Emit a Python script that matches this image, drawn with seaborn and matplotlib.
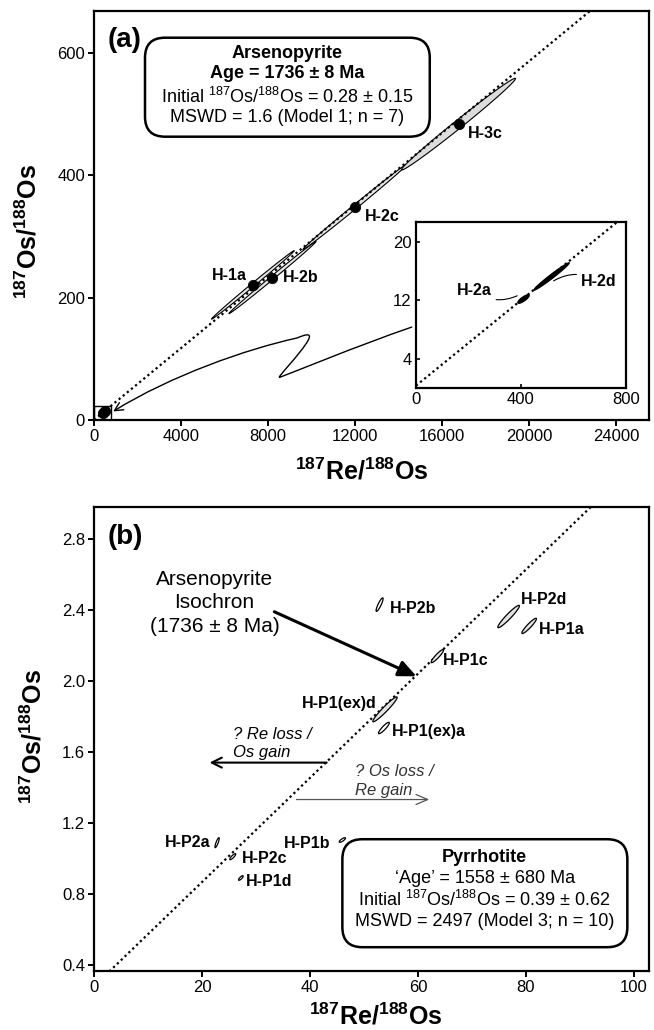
import numpy as np
import pandas as pd
import matplotlib
matplotlib.use("Agg")
import matplotlib.pyplot as plt
import seaborn as sns
from matplotlib.patches import FancyBboxPatch, FancyArrowPatch, Rectangle
from matplotlib.path import Path

# ---- (a) arsenopyrite analyses: 187Re/188Os, 187Os/188Os, 2s errors, rho ----
apy_names = ["H-1a", "H-2b", "H-2c", "H-3c", "H-2a", "H-2d"]
apy_re = [7300, 8200, 12000, 16750, 410, 517]
apy_re_err = [1900, 2000, 2400, 2620, 22, 68]
apy_os = [221, 233, 349, 484, 12.2, 15.3]
apy_os_err = [56, 59, 70, 75, 0.6, 1.9]
apy_rho = [0.998, 0.998, 0.998, 0.9935, 0.815, 0.983]

# ---- (b) pyrrhotite analyses ----
po_names = ["H-P2b", "H-P2d", "H-P1a", "H-P1c", "H-P1(ex)d", "H-P1(ex)a",
            "H-P2a", "H-P2c", "H-P1d", "H-P1b"]
po_re = [52.9, 76.8, 80.6, 63.6, 53.9, 53.7, 22.8, 25.7, 27.2, 46.0]
po_re_err = [0.65, 2.0, 1.35, 1.15, 2.25, 1.0, 0.4, 0.55, 0.43, 0.58]
po_os = [2.43, 2.363, 2.31, 2.14, 1.84, 1.735, 1.089, 1.01, 0.89, 1.104]
po_os_err = [0.038, 0.063, 0.043, 0.037, 0.07, 0.032, 0.028, 0.017, 0.013, 0.013]
po_rho = [0.88, 0.95, 0.93, 0.92, 0.96, 0.9, 0.85, 0.85, 0.8, 0.8]

# arsenopyrite isochron
iso_age_ma = 1736
iso_initial = 0.28
lambda_re = 1.666e-11
iso_slope = np.exp(lambda_re * iso_age_ma * 1e6) - 1

apy = pd.DataFrame({"name": apy_names, "re": apy_re, "re_err": apy_re_err,
                    "os": apy_os, "os_err": apy_os_err, "rho": apy_rho})
po = pd.DataFrame({"name": po_names, "re": po_re, "re_err": po_re_err,
                   "os": po_os, "os_err": po_os_err, "rho": po_rho})

sns.set_theme(style="ticks")
plt.rcParams["font.family"] = ["Liberation Sans", "DejaVu Sans"]
plt.rcParams["mathtext.fontset"] = "custom"
plt.rcParams["mathtext.rm"] = "Liberation Sans"
plt.rcParams["mathtext.bf"] = "Liberation Sans:bold"
plt.rcParams["mathtext.it"] = "Liberation Sans:italic"
plt.rcParams["axes.linewidth"] = 1.6
plt.rcParams["axes.edgecolor"] = "black"
plt.rcParams["text.color"] = "black"
plt.rcParams["axes.labelcolor"] = "black"
plt.rcParams["xtick.color"] = "black"
plt.rcParams["ytick.color"] = "black"

FW, FH = 6.54, 10.30
fig = plt.figure(figsize=(FW, FH), dpi=100)
ax_a = fig.add_axes([94 / 654, 610 / 1030, 555 / 654, 409 / 1030])
ax_b = fig.add_axes([94 / 654, 59 / 1030, 555 / 654, 464 / 1030])
ax_in = fig.add_axes([416 / 654, 642.3 / 1030, 209.7 / 654, 165.7 / 1030])

DOTS = (0, (1, 1.4))


def ellipse(ax, row, fc, lw=0.9, z=3):
    t = np.linspace(0, 2 * np.pi, 200)
    x = row.re + row.re_err * np.cos(t)
    y = row.os + row.os_err * (row.rho * np.cos(t) + np.sqrt(1 - row.rho ** 2) * np.sin(t))
    ax.fill(x, y, facecolor=fc, edgecolor="black", lw=lw, zorder=z)


def rounded_box(ax, x0, y0, x1, y1, r_px=20):
    bb = ax.get_position()
    w_px, h_px = bb.width * FW * 100, bb.height * FH * 100
    p = FancyBboxPatch((x0, y0), x1 - x0, y1 - y0,
                       boxstyle=f"round,pad=0,rounding_size={r_px / w_px}",
                       mutation_aspect=w_px / h_px, transform=ax.transAxes,
                       fc="white", ec="black", lw=1.8, zorder=6)
    ax.add_patch(p)


def style_axes(ax, size=12):
    ax.tick_params(direction="out", length=4, width=1.4, labelsize=size, pad=2.5,
                   colors="black")
    for s in ax.spines.values():
        s.set_visible(True)
        s.set_linewidth(1.6)


# ================= panel (a) =================
xa_max, ya_max = 25500, 669
ax_a.set_xlim(0, xa_max)
ax_a.set_ylim(0, ya_max)
style_axes(ax_a)
ax_a.set_xticks(range(0, 24001, 4000))
ax_a.set_yticks([0, 200, 400, 600])

xs = np.array([0, xa_max])
ax_a.plot(xs, iso_initial + iso_slope * xs, color="black", lw=1.6, linestyle=DOTS, zorder=4)
for _, r in apy.iterrows():
    ellipse(ax_a, r, "#dcdcdc" if r["name"] == "H-3c" else "#e6e6e6", lw=0.8)
sns.scatterplot(data=apy, x="re", y="os", color="black", s=55, edgecolor="black",
                ax=ax_a, zorder=5, legend=False)

in_xmax, in_ymax = 800, 22.8
ax_a.add_patch(Rectangle((0, 0), in_xmax, in_ymax, fill=False, ec="black", lw=1, zorder=5))

lab_a = {"H-1a": (-6, 9, "right"), "H-2b": (10, 0, "left"),
         "H-2c": (10, -10, "left"), "H-3c": (9, -9, "left")}
for _, r in apy.iterrows():
    if r["name"] in lab_a:
        dx, dy, ha = lab_a[r["name"]]
        ax_a.annotate(r["name"], (r.re, r.os), xytext=(dx, dy), textcoords="offset pixels",
                      ha=ha, va="center", fontsize=11.5, fontweight="bold", zorder=7)

# zig-zag pointer from inset to origin
zz = Path([(14600, 152), (12000, 120), (9300, 80), (8548, 70),
           (8300, 66), (9500, 108), (9850, 131),
           (10050, 145), (9600, 138), (9315, 134),
           (7000, 116), (3500, 72), (880, 14)],
          [Path.MOVETO] + [Path.CURVE4] * 12)
ax_a.add_patch(FancyArrowPatch(path=zz, arrowstyle="->,head_length=6,head_width=3",
                               lw=1.0, color="black", zorder=4))

rounded_box(ax_a, 0.0919, 0.6927, 0.605, 0.9347)
box_a = ["Arsenopyrite", "Age = 1736 ± 8 Ma",
         r"Initial $^{187}$Os/$^{188}$Os = 0.28 ± 0.15", "MSWD = 1.6 (Model 1; n = 7)"]
for txt, yy, fw in zip(box_a, [0.8973, 0.8484, 0.7897, 0.7408],
                       ["bold", "bold", "normal", "normal"]):
    ax_a.text(0.3485, yy, txt, transform=ax_a.transAxes, ha="center", va="center",
              fontsize=13, fontweight=fw, zorder=7)

ax_a.text(0.025, 0.929, "(a)", transform=ax_a.transAxes, fontsize=20,
          fontweight="bold", va="center", ha="left")
ax_a.set_xlabel(r"$\mathbf{^{187}Re/^{188}Os}$", fontsize=18)
ax_a.set_ylabel(r"$\mathbf{^{187}Os/^{188}Os}$", fontsize=18)
ax_a.xaxis.set_label_coords(0.483, -0.093)
ax_a.yaxis.set_label_coords(-0.094, 0.46)

# ---- inset ----
ax_in.set_xlim(0, in_xmax)
ax_in.set_ylim(0, in_ymax)
ax_in.tick_params(direction="in", length=3, width=1.2, labelsize=12, pad=3, colors="black")
for s in ax_in.spines.values():
    s.set_visible(True)
    s.set_linewidth(1.6)
ax_in.set_xticks([0, 400, 800])
ax_in.set_yticks([4, 12, 20])
xi = np.array([0, in_xmax])
ax_in.plot(xi, iso_initial + iso_slope * xi, color="black", lw=1.6, linestyle=DOTS, zorder=3)
for _, r in apy.iterrows():
    ellipse(ax_in, r, "black", lw=0.8, z=4)
ax_in.annotate("H-2a", xy=(386, 12.65), xytext=(288, 13.4), ha="right", va="center",
               fontsize=11.5, fontweight="bold",
               arrowprops=dict(arrowstyle="-", lw=0.8, color="black",
                               connectionstyle="arc3,rad=0.3", shrinkA=1, shrinkB=0))
ax_in.annotate("H-2d", xy=(525, 14.7), xytext=(630, 14.6), ha="left", va="center",
               fontsize=11.5, fontweight="bold",
               arrowprops=dict(arrowstyle="-", lw=0.8, color="black",
                               connectionstyle="arc3,rad=0.3", shrinkA=1, shrinkB=0))

# ================= panel (b) =================
xb_max = 102.8
ax_b.set_xlim(0, xb_max)
ax_b.set_ylim(0.366, 2.98)
style_axes(ax_b)
ax_b.set_xticks(range(0, 101, 20))
ax_b.set_yticks([0.4, 0.8, 1.2, 1.6, 2.0, 2.4, 2.8])
ax_b.set_yticklabels(["0.4", "0.8", "1.2", "1.6", "2.0", "2.4", "2.8"])

xb = np.array([0, xb_max])
ax_b.plot(xb, iso_initial + iso_slope * xb, color="black", lw=1.6, linestyle=DOTS, zorder=2)

shaded = {"H-P2d", "H-P1a", "H-P1c", "H-P1(ex)d"}
for _, r in po.iterrows():
    ellipse(ax_b, r, "#e3e3e3" if r["name"] in shaded else "white", lw=0.9)

lab_b = {"H-P2b": (10, -4, "left"), "H-P2d": (12, 17, "left"), "H-P1a": (10, -4, "left"),
         "H-P1c": (6, -4, "left"), "H-P1(ex)d": (-8, 6, "right"),
         "H-P1(ex)a": (8, -4, "left"), "H-P2a": (-7, 0, "right"),
         "H-P2c": (9, -2, "left"), "H-P1d": (5, -4, "left"), "H-P1b": (-12, -3, "right")}
for _, r in po.iterrows():
    dx, dy, ha = lab_b[r["name"]]
    ax_b.annotate(r["name"], (r.re, r.os), xytext=(dx, dy), textcoords="offset pixels",
                  ha=ha, va="center", fontsize=11.5, fontweight="bold", zorder=7)

ax_b.text(22.3, 2.44, "Arsenopyrite\nIsochron\n(1736 ± 8 Ma)", ha="center", va="center",
          fontsize=15, linespacing=1.3)
ax_b.annotate("", xy=(59.75, 2.026), xytext=(33.4, 2.39),
              arrowprops=dict(arrowstyle="-|>,head_length=0.9,head_width=0.4", lw=2.2,
                              color="black", shrinkA=0, shrinkB=0))

ax_b.text(25.7, 1.647, "? Re loss /\nOs gain", style="italic", fontsize=12,
          ha="left", va="center", linespacing=1.3)
ax_b.annotate("", xy=(21.4, 1.54), xytext=(43.1, 1.54),
              arrowprops=dict(arrowstyle="->,head_length=0.6,head_width=0.3", lw=1.5,
                              color="black", shrinkA=0, shrinkB=0))
ax_b.text(48.3, 1.437, "? Os loss /\nRe gain", style="italic", fontsize=12,
          ha="left", va="center", linespacing=1.3, color="#333333")
ax_b.annotate("", xy=(62.1, 1.332), xytext=(37.5, 1.332),
              arrowprops=dict(arrowstyle="->,head_length=0.7,head_width=0.3", lw=0.9,
                              color="#555555", shrinkA=0, shrinkB=0))

rounded_box(ax_b, 0.4475, 0.0513, 0.961, 0.284)
box_b = ["Pyrrhotite", "‘Age’ = 1558 ± 680 Ma",
         r"Initial $^{187}$Os/$^{188}$Os = 0.39 ± 0.62", "MSWD = 2497 (Model 3; n = 10)"]
for txt, yy, fw in zip(box_b, [0.2452, 0.2001, 0.1530, 0.1071],
                       ["bold", "normal", "normal", "normal"]):
    ax_b.text(0.704, yy, txt, transform=ax_b.transAxes, ha="center", va="center",
              fontsize=13, fontweight=fw, zorder=7)

ax_b.text(0.025, 0.935, "(b)", transform=ax_b.transAxes, fontsize=20,
          fontweight="bold", va="center", ha="left")
ax_b.set_xlabel(r"$\mathbf{^{187}Re/^{188}Os}$", fontsize=18)
ax_b.set_ylabel(r"$\mathbf{^{187}Os/^{188}Os}$", fontsize=18)
ax_b.xaxis.set_label_coords(0.508, -0.069)
ax_b.yaxis.set_label_coords(-0.086, 0.506)

fig.savefig("out.png", dpi=100)
